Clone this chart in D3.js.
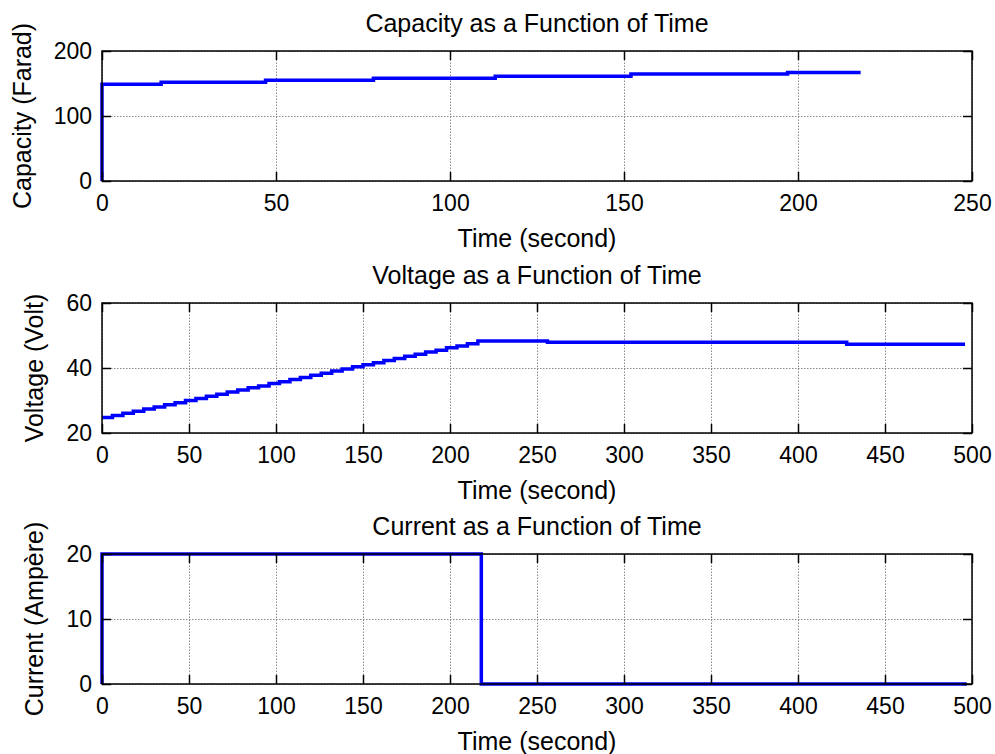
<!DOCTYPE html>
<html lang="en">
<head>
    <meta charset="utf-8" />
    <title>Capacity, Voltage and Current as a Function of Time</title>
    <script src="https://d3js.org/d3.v7.min.js"></script>
    <style>
        body {
            margin: 0;
            padding: 0;
            background: white;
        }
        svg text {
            font-family: "Liberation Sans", Arial, sans-serif;
            fill: black;
        }
    </style>
</head>
<body>
<svg id="chart"></svg>
<script>
    var w = 995;
    var h = 754;

    // Capacity (Farad) steps: time in seconds, value in Farad
    var capTime = [0, 0, 17, 47, 78, 113, 152, 197, 218];
    var capValue = [0, 149, 152, 155, 158, 161, 164.5, 167, 167];

    // Voltage (Volt) steps
    var voltTime = [0, 6, 12, 18, 24, 30, 36, 42, 48, 54, 60, 66, 72, 78, 84, 90, 96, 102, 108,
                    114, 120, 126, 132, 138, 144, 150, 156, 162, 168, 174, 180, 186, 192, 198,
                    204, 210, 216, 256, 428, 496];
    var voltValue = [24.8, 25.4, 26.1, 26.7, 27.4, 28.0, 28.7, 29.3, 30.0, 30.6, 31.3, 31.9, 32.6,
                     33.2, 33.9, 34.5, 35.2, 35.8, 36.5, 37.1, 37.8, 38.4, 39.1, 39.7, 40.4, 41.0,
                     41.6, 42.3, 42.9, 43.6, 44.2, 44.9, 45.5, 46.2, 46.8, 47.5, 48.3, 47.9, 47.3, 47.3];

    // Current (Ampere) steps
    var curTime = [0, 0, 218, 497];
    var curValue = [0, 20, 0, 0];

    // Tick values
    var capXTicks = [0, 50, 100, 150, 200, 250];
    var capYTicks = [0, 100, 200];
    var longXTicks = [0, 50, 100, 150, 200, 250, 300, 350, 400, 450, 500];
    var voltYTicks = [20, 40, 60];
    var curYTicks = [0, 10, 20];

    var svg = d3.select("#chart")
                .attr("width", w)
                .attr("height", h);

    var left = 102, right = 972, plotH = 130, tickLen = 9;

    function drawPanel(top, title, yLabel, yLabelX, xDomain, xTicks, yDomain, yTicks, times, values) {
        var g = svg.append("g").attr("transform", "translate(0," + top + ")");

        var xScale = d3.scaleLinear().domain(xDomain).range([left, right]);
        var yScale = d3.scaleLinear().domain(yDomain).range([plotH, 0]);

        // dotted grid
        g.append("g")
            .attr("transform", "translate(0," + plotH + ")")
            .call(d3.axisBottom(xScale).tickValues(xTicks).tickSize(-plotH).tickFormat(""))
            .call(function(s) {
                s.select(".domain").remove();
                s.selectAll("line").attr("stroke", "#8a8a8a").attr("stroke-dasharray", "1.5,1.5");
            });
        g.append("g")
            .attr("transform", "translate(" + left + ",0)")
            .call(d3.axisLeft(yScale).tickValues(yTicks).tickSize(-(right - left)).tickFormat(""))
            .call(function(s) {
                s.select(".domain").remove();
                s.selectAll("line").attr("stroke", "#8a8a8a").attr("stroke-dasharray", "1.5,1.5");
            });

        // the data line
        var line = d3.line()
            .x(function(d) { return xScale(d[0]); })
            .y(function(d) { return yScale(d[1]); })
            .curve(d3.curveStepAfter);
        g.append("path")
            .datum(d3.zip(times, values))
            .attr("d", line)
            .attr("fill", "none")
            .attr("stroke", "#0000ff")
            .attr("stroke-width", 3.5);

        // box
        g.append("rect")
            .attr("x", left)
            .attr("y", 0)
            .attr("width", right - left)
            .attr("height", plotH)
            .attr("fill", "none")
            .attr("stroke", "black")
            .attr("stroke-width", 1.5);

        // inward ticks on all sides, labels bottom and left
        g.append("g")
            .attr("transform", "translate(0," + plotH + ")")
            .call(d3.axisBottom(xScale).tickValues(xTicks).tickSize(-tickLen).tickPadding(14))
            .call(function(s) {
                s.select(".domain").remove();
                s.selectAll("line").attr("stroke", "black").attr("stroke-width", 1.5);
                s.selectAll("text").attr("font-size", "23px").attr("font-family", null);
            });
        g.append("g")
            .call(d3.axisTop(xScale).tickValues(xTicks).tickSize(-tickLen).tickFormat(""))
            .call(function(s) {
                s.select(".domain").remove();
                s.selectAll("line").attr("stroke", "black").attr("stroke-width", 1.5);
            });
        g.append("g")
            .attr("transform", "translate(" + left + ",0)")
            .call(d3.axisLeft(yScale).tickValues(yTicks).tickSize(-tickLen).tickPadding(10))
            .call(function(s) {
                s.select(".domain").remove();
                s.selectAll("line").attr("stroke", "black").attr("stroke-width", 1.5);
                s.selectAll("text").attr("font-size", "23px").attr("font-family", null);
            });
        g.append("g")
            .attr("transform", "translate(" + right + ",0)")
            .call(d3.axisRight(yScale).tickValues(yTicks).tickSize(-tickLen).tickFormat(""))
            .call(function(s) {
                s.select(".domain").remove();
                s.selectAll("line").attr("stroke", "black").attr("stroke-width", 1.5);
            });

        // title
        g.append("text")
            .attr("x", (left + right) / 2)
            .attr("y", -19)
            .attr("text-anchor", "middle")
            .attr("font-size", "25px")
            .text(title);

        // x label
        g.append("text")
            .attr("x", (left + right) / 2)
            .attr("y", plotH + 66)
            .attr("text-anchor", "middle")
            .attr("font-size", "25px")
            .text("Time (second)");

        // y label
        g.append("text")
            .attr("transform", "translate(" + yLabelX + "," + plotH / 2 + ") rotate(-90)")
            .attr("text-anchor", "middle")
            .attr("font-size", "25px")
            .text(yLabel);
    }

    drawPanel(51, "Capacity as a Function of Time", "Capacity (Farad)", 31,
              [0, 250], capXTicks, [0, 200], capYTicks, capTime, capValue);
    drawPanel(303, "Voltage as a Function of Time", "Voltage (Volt)", 43,
              [0, 500], longXTicks, [20, 60], voltYTicks, voltTime, voltValue);
    drawPanel(554, "Current as a Function of Time", "Current (Ampère)", 43,
              [0, 500], longXTicks, [0, 20], curYTicks, curTime, curValue);
</script>
</body>
</html>
